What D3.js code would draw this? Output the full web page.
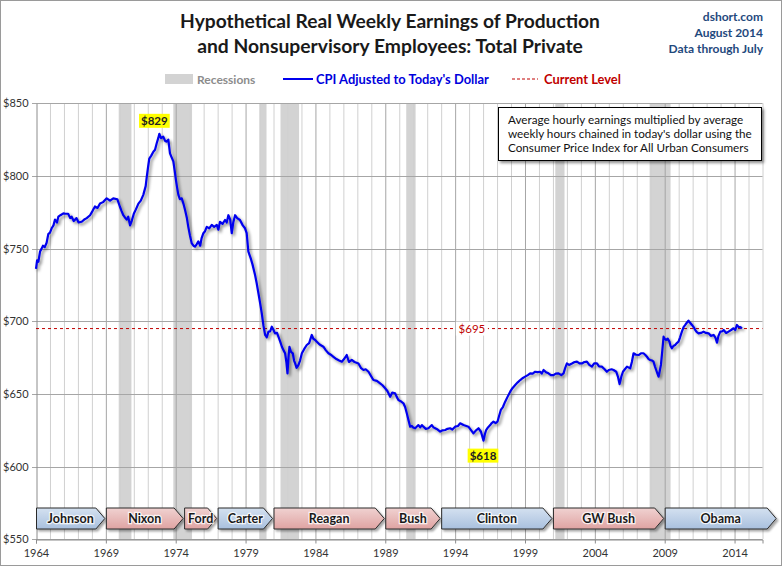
<!DOCTYPE html>
<html><head><meta charset="utf-8">
<script src="https://cdn.jsdelivr.net/npm/d3@7"></script>
<style>body{margin:0;background:#fff} svg{display:block}</style>
</head><body><svg id="c" width="782" height="566"></svg>
<script>
// ---------- DATA ----------
const years = [1964.00,1964.08,1964.17,1964.29,1964.40,1964.50,1964.62,1964.76,1964.88,1965.00,1965.12,1965.25,1965.36,1965.50,1965.60,1965.75,1965.96,1966.10,1966.30,1966.45,1966.55,1966.70,1966.90,1967.05,1967.27,1967.45,1967.63,1967.87,1968.05,1968.22,1968.40,1968.58,1968.80,1969.06,1969.30,1969.53,1969.82,1970.00,1970.12,1970.25,1970.40,1970.49,1970.60,1970.73,1970.85,1971.00,1971.15,1971.33,1971.50,1971.68,1971.85,1971.93,1972.02,1972.11,1972.25,1972.40,1972.52,1972.64,1972.75,1972.83,1972.95,1973.11,1973.25,1973.35,1973.47,1973.59,1973.70,1973.83,1973.92,1974.02,1974.10,1974.19,1974.30,1974.43,1974.55,1974.67,1974.80,1974.90,1975.02,1975.15,1975.27,1975.38,1975.50,1975.62,1975.75,1975.85,1975.98,1976.10,1976.22,1976.40,1976.58,1976.75,1976.94,1977.05,1977.17,1977.35,1977.53,1977.65,1977.77,1977.90,1978.01,1978.12,1978.25,1978.40,1978.60,1978.80,1978.96,1979.08,1979.20,1979.37,1979.50,1979.68,1979.80,1979.92,1980.05,1980.16,1980.28,1980.40,1980.52,1980.64,1980.76,1980.88,1981.00,1981.11,1981.25,1981.35,1981.48,1981.60,1981.72,1981.83,1981.92,1982.00,1982.07,1982.14,1982.25,1982.38,1982.47,1982.55,1982.65,1982.79,1982.90,1983.03,1983.20,1983.38,1983.55,1983.74,1983.85,1984.00,1984.10,1984.30,1984.57,1984.75,1984.93,1985.10,1985.29,1985.50,1985.70,1985.89,1986.05,1986.24,1986.40,1986.60,1986.80,1987.08,1987.25,1987.44,1987.60,1987.80,1988.00,1988.15,1988.40,1988.63,1988.80,1988.99,1989.15,1989.35,1989.50,1989.70,1989.82,1989.94,1990.10,1990.30,1990.42,1990.54,1990.66,1990.78,1990.90,1991.00,1991.14,1991.37,1991.50,1991.62,1991.73,1991.90,1992.09,1992.33,1992.45,1992.57,1992.75,1992.93,1993.10,1993.29,1993.45,1993.64,1993.80,1994.00,1994.20,1994.36,1994.60,1994.80,1994.95,1995.15,1995.31,1995.50,1995.67,1995.85,1996.03,1996.12,1996.22,1996.35,1996.51,1996.62,1996.74,1996.90,1997.03,1997.15,1997.27,1997.42,1997.58,1997.75,1997.94,1998.10,1998.30,1998.48,1998.66,1998.85,1999.01,1999.20,1999.37,1999.55,1999.73,1999.90,2000.09,2000.20,2000.33,2000.50,2000.68,2000.85,2001.04,2001.20,2001.40,2001.60,2001.76,2001.88,2002.00,2002.15,2002.36,2002.55,2002.72,2002.90,2003.07,2003.25,2003.43,2003.60,2003.79,2003.95,2004.15,2004.30,2004.50,2004.70,2004.86,2005.00,2005.20,2005.34,2005.53,2005.65,2005.77,2005.90,2006.01,2006.15,2006.30,2006.53,2006.65,2006.77,2006.95,2007.13,2007.30,2007.48,2007.60,2007.73,2007.85,2007.96,2008.10,2008.20,2008.30,2008.39,2008.48,2008.56,2008.65,2008.73,2008.83,2008.92,2009.00,2009.10,2009.22,2009.34,2009.42,2009.51,2009.62,2009.75,2009.87,2009.99,2010.10,2010.23,2010.35,2010.47,2010.58,2010.70,2010.82,2010.95,2011.07,2011.19,2011.30,2011.42,2011.60,2011.78,2011.95,2012.14,2012.30,2012.50,2012.62,2012.74,2012.85,2012.98,2013.10,2013.22,2013.40,2013.57,2013.75,2013.93,2014.05,2014.17,2014.30,2014.42,2014.53];
const earnings = [736,742,741,748,750,752,751,754,760,761,764,766,770,768,772,773,774.3,774,774,771,772,769,771,768,768.5,770,771,773,776,779,778,781,782,784.6,783,784.6,784,779,776,773,771,770,772,766,769,774,777,781,783,787,793,799.5,806,812,814,816.7,818,822.5,826,829,826,827,824,823.6,825,815.6,813,810,804,797,792,787,784,784.6,781,776.6,771,765,759,753.6,752,751.4,753,755,752,757,760.6,762,765,764,766.3,765,766.3,763,768.5,767,769.7,768,773,770,760.6,768,773,771,769.7,766,764,760.6,748,743.3,739,731.9,726,719.3,712,705.5,697,690.6,689,692.9,693,696.3,694,691.7,692,689.4,686,682.5,680,678,672,664.2,675,682.5,679,678,673,671,668,670,673,678,681,683.7,685,690.6,688,687,686,684,682.5,680,678,677,675.6,674,673,672.2,674,676.8,672,673.4,672,671,668,666.5,667,665.3,662,659.6,659,657.3,656,653.9,652,648.1,651,650.5,648,645.8,645,643.6,641,636.7,632,627.5,628,627,626.4,628.6,627,628.6,627.5,626,626.4,628.6,627,626.4,625.5,624.1,625,625.2,626,626.4,625.5,627.5,628,629.8,628.6,628,627.5,625,622.9,625,626.4,624,617.9,622,625.2,627,628.6,630,630.9,630,630.9,635,639,641,644.7,648,651.6,654,656.2,658,659.6,661,661.9,663,664.2,664,665.3,665,665.3,664,666.5,665,664.2,663,663,664,664.2,663,664.2,668,671,670,671,672,672.2,671,671,672,672.2,670,668.8,671,671,669,668.8,667,665.3,666.5,667,666.5,665.3,662,656.8,662,665.3,667,668.8,667.6,672,678,677,676.8,678,678,677,675.6,674,673.4,673,672.2,669,666.5,664,661.9,666,670,680,689.4,688,687.2,688,686,683,681.4,683,683.7,685,686,689,692.9,696,697.5,699,700.4,699,697.5,696,694,692.5,691.7,692,692.9,692,691.7,690,690.6,689,685.3,690,692.9,693,694,692,692.9,694,695.2,694,697.5,696,696,695.2];
const recessionStart = [1969.92,1973.83,1980.00,1981.50,1990.50,2001.17,2007.92];
const recessionEnd   = [1970.83,1975.17,1980.50,1982.83,1991.17,2001.83,2009.42];
const presidents = ["Johnson","Nixon","Ford","Carter","Reagan","Bush","Clinton","GW Bush","Obama"];
const termStart = [1964,1969,1974.6,1977,1981,1989,1993,2001,2009];
const termEnd   = [1969,1974.6,1977,1981,1989,1993,2001,2009,2017.05];
const party     = ["D","R","R","D","R","R","D","R","D"];
const yTicks = [550,600,650,700,750,800,850];
const xTickYears = [1964,1969,1974,1979,1984,1989,1994,1999,2004,2009,2014];
const currentLevel = 695;
const peakLabel = {year:1972.83, value:829, text:"$829"};
const lowLabel = {year:1996.03, value:617.9, text:"$618"};
const noteLines = ["Average hourly earnings multiplied by average","weekly hours chained in today's dollar using the","Consumer Price Index for All Urban Consumers"];

// ---------- CHART ----------
const svg = d3.select("#c");
const FONT = "Lato, 'Open Sans', sans-serif";
const L = 36, R = 762.5, T = 103.3, B = 539.3;
const x = d3.scaleLinear().domain([1964, 2016]).range([L, R]);
const y = d3.scaleLinear().domain([550, 850]).range([B, T]);

const defs = svg.append("defs");
const sh = defs.append("filter").attr("id","shadow").attr("x","-10%").attr("y","-10%").attr("width","130%").attr("height","140%");
sh.append("feDropShadow").attr("dx",2).attr("dy",2).attr("stdDeviation",1.3).attr("flood-color","#000").attr("flood-opacity",0.35);
const sh2 = defs.append("filter").attr("id","shadow2").attr("x","-10%").attr("y","-20%").attr("width","130%").attr("height","160%");
sh2.append("feDropShadow").attr("dx",2).attr("dy",2).attr("stdDeviation",1.5).attr("flood-color","#000").attr("flood-opacity",0.45);
function grad(id, c1, c2){
  const g = defs.append("linearGradient").attr("id",id).attr("x1",0).attr("y1",0).attr("x2",0).attr("y2",1);
  g.append("stop").attr("offset","0%").attr("stop-color",c1);
  g.append("stop").attr("offset","100%").attr("stop-color",c2);
}
grad("gR","#f0d2d1","#dfa3a2");
grad("gD","#d4e1f0","#a9c0de");

svg.append("rect").attr("x",0.5).attr("y",0.5).attr("width",781).attr("height",565).attr("fill","#fff").attr("stroke","#9a9a9a");

// recessions
svg.append("g").selectAll("rect").data(recessionStart).join("rect")
  .attr("x", (d)=>x(d)).attr("width", (d,i)=>x(recessionEnd[i])-x(d))
  .attr("y", T).attr("height", B-T).attr("fill","#d3d3d3");

// vertical gridlines (yearly)
const allYears = d3.range(1965, 2017);
svg.append("g").selectAll("line").data(allYears).join("line")
  .attr("x1", d=>x(d)+0.5).attr("x2", d=>x(d)+0.5).attr("y1", T).attr("y2", B)
  .attr("stroke", d => (d-1964)%5===0 ? "#a6a6a6" : "#d0d0d0").attr("stroke-width",1);

// horizontal gridlines
svg.append("g").selectAll("line").data(yTicks).join("line")
  .attr("x1", L-4).attr("x2", R).attr("y1", d=>Math.round(y(d))+0.5).attr("y2", d=>Math.round(y(d))+0.5)
  .attr("stroke","#a6a6a6");

// axes
const yAxis = svg.append("g").attr("transform",`translate(${L+0.5},0)`)
  .call(d3.axisLeft(y).tickValues(yTicks).tickSize(0).tickPadding(6).tickFormat(d=>"$"+d));
yAxis.select(".domain").attr("stroke","#8c8c8c");
yAxis.selectAll("text").attr("font-family",FONT).attr("font-size",11).attr("fill","#333")
  .attr("text-anchor","start").attr("x",-33.5);
const xAxis = svg.append("g").attr("transform",`translate(0,${Math.round(B)+0.5})`)
  .call(d3.axisBottom(x).tickValues(xTickYears).tickSize(4).tickPadding(6).tickFormat(d3.format("d")));
xAxis.select(".domain").attr("stroke","#8c8c8c");
xAxis.selectAll("line").attr("stroke","#8c8c8c");
xAxis.selectAll("text").attr("font-family",FONT).attr("font-size",11).attr("fill","#333");

// current level dashed line
svg.append("line").attr("x1",L).attr("x2",R).attr("y1",y(currentLevel)).attr("y2",y(currentLevel))
  .attr("stroke","#c00000").attr("stroke-width",1).attr("stroke-dasharray","3,3");
const cl = svg.append("g").attr("transform",`translate(${x(1995.2)},${y(currentLevel)})`);
cl.append("rect").attr("x",-16).attr("y",-7).attr("width",32).attr("height",14).attr("fill","#fff");
cl.append("text").attr("text-anchor","middle").attr("dy","0.35em").attr("font-family",FONT)
  .attr("font-size",11.5).attr("fill","#c00000").text("$"+currentLevel);

// president arrows
const aT = 508, aB = 529, tip = 9;
const pg = svg.append("g");
presidents.forEach((p,i)=>{
  const x0 = x(termStart[i]) + 0.5, x1 = x(termEnd[i]) - 1;
  const pts = [[x0,aT],[x1-tip,aT],[x1,(aT+aB)/2],[x1-tip,aB],[x0,aB]];
  pg.append("polygon").attr("points", pts.map(d=>d.join(",")).join(" "))
    .attr("fill", party[i]==="R" ? "url(#gR)" : "url(#gD)")
    .attr("stroke","#2b2b2b").attr("stroke-width",1).attr("filter","url(#shadow)");
  pg.append("text").attr("x",(x0+x1)/2).attr("y",(aT+aB)/2).attr("dy","0.36em")
    .attr("text-anchor","middle").attr("font-family",FONT).attr("font-weight","bold").attr("font-size",12.5)
    .attr("fill","#1a1a1a").attr("stroke","#fff").attr("stroke-width",2.5).attr("stroke-opacity",0.8)
    .attr("paint-order","stroke").text(p);
});

// line
const line = d3.line().x((d,i)=>x(years[i])).y(d=>y(d));
svg.append("path").datum(earnings).attr("d", line).attr("fill","none")
  .attr("stroke","#0000ee").attr("stroke-width",2.2).attr("stroke-linejoin","round")
  .attr("filter","url(#shadow2)");

// value labels
function yellowLabel(cx, cy, t){
  const g = svg.append("g").attr("transform",`translate(${cx},${cy})`);
  const tx = g.append("text").attr("text-anchor","middle").attr("dy","0.36em").attr("font-family",FONT)
    .attr("font-weight","bold").attr("font-size",11.5).attr("fill","#222").text(t);
  const w = tx.node().getComputedTextLength();
  g.insert("rect","text").attr("x",-w/2-2).attr("y",-7).attr("width",w+4).attr("height",14).attr("fill","#ffff00");
}
yellowLabel(x(peakLabel.year)-5, y(peakLabel.value)-13, peakLabel.text);
yellowLabel(x(lowLabel.year)-0.5, y(lowLabel.value)+15, lowLabel.text);

// titles / fitting helper
function fit(sel, target){
  const w = sel.node().getComputedTextLength();
  const fs = parseFloat(sel.attr("font-size"));
  sel.attr("font-size", fs*target/w);
}

// note box
const nb = svg.append("g");
nb.append("rect").attr("x",498.5).attr("y",107.5).attr("width",263).attr("height",53)
  .attr("fill","#fff").attr("stroke","#000").attr("filter","url(#shadow2)");
const noteTexts = noteLines.map((t,i)=> nb.append("text").attr("x",508).attr("y",124+i*14).attr("font-family",FONT)
    .attr("font-size",11).attr("fill","#111").text(t));
{
  const w = noteTexts[1].node().getComputedTextLength();
  const fs = 11*244/w;
  noteTexts.forEach(t=>t.attr("font-size",fs));
}

const t1 = svg.append("text").attr("x",390).attr("y",28).attr("text-anchor","middle").attr("font-family",FONT)
  .attr("font-weight","bold").attr("font-size",17).attr("fill","#1a1a1a").text("Hypothetical Real Weekly Earnings of Production");
fit(t1, 420);
const t2 = svg.append("text").attr("x",390).attr("y",53).attr("text-anchor","middle").attr("font-family",FONT)
  .attr("font-weight","bold").attr("font-size",17).attr("fill","#1a1a1a").text("and Nonsupervisory Employees: Total Private");
fit(t2, 386);

const rt = ["dshort.com","August 2014","Data through July"];
rt.forEach((t,i)=>{
  svg.append("text").attr("x",763).attr("y",21+i*16).attr("text-anchor","end").attr("font-family",FONT)
    .attr("font-weight","bold").attr("font-size",12).attr("fill","#1f497d").text(t);
});

// legend
const lg = svg.append("g");
lg.append("rect").attr("x",165).attr("y",74).attr("width",28).attr("height",10).attr("fill","#d3d3d3");
lg.append("text").attr("x",197).attr("y",83.5).attr("font-family",FONT).attr("font-weight","bold")
  .attr("font-size",12).attr("fill","#8c8c8c").text("Recessions");
lg.append("line").attr("x1",283).attr("x2",313).attr("y1",79).attr("y2",79).attr("stroke","#0000ee").attr("stroke-width",2);
const lt2 = lg.append("text").attr("x",316).attr("y",83.5).attr("font-family",FONT).attr("font-weight","bold")
  .attr("font-size",12).attr("fill","#0000dd").text("CPI Adjusted to Today's Dollar");
fit(lt2,173);
lg.append("line").attr("x1",512).attr("x2",538).attr("y1",79).attr("y2",79).attr("stroke","#c00000").attr("stroke-dasharray","3,2");
const lt3 = lg.append("text").attr("x",544).attr("y",83.5).attr("font-family",FONT).attr("font-weight","bold")
  .attr("font-size",12).attr("fill","#c00000").text("Current Level");
fit(lt3,77);
</script></body></html>
